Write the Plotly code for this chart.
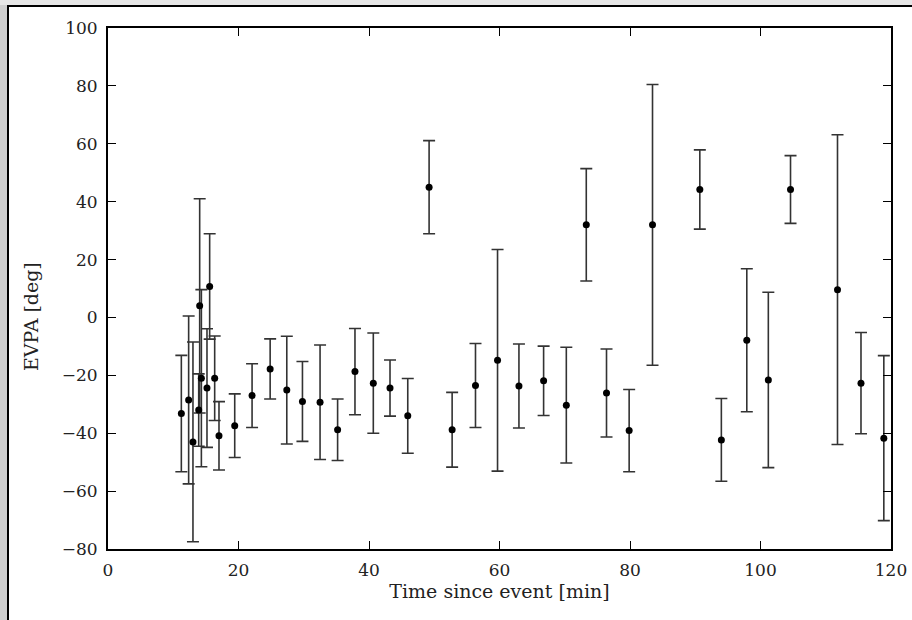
import plotly.graph_objects as go

# tiempo desde el evento [min], EVPA [deg] y su error (1 sigma)
tiempo = [11.24, 12.36, 13.02, 13.9, 14.05, 14.31, 15.17, 15.58, 16.35, 17.01,
          19.42, 22.08, 24.85, 27.4, 29.8, 32.5, 35.19, 37.85, 40.66, 43.22,
          45.94, 49.21, 52.74, 56.32, 59.7, 62.98, 66.76, 70.24, 73.3, 76.4,
          79.87, 83.45, 90.7, 94.0, 97.9, 101.2, 104.6, 111.8, 115.4, 118.9]
evpa = [-33.2, -28.5, -43.0, -32.0, 4.0, -21.0, -24.4, 10.7, -21.0, -40.9,
        -37.4, -27.0, -17.8, -25.1, -29.0, -29.3, -38.8, -18.7, -22.7, -24.4,
        -34.0, 45.0, -38.8, -23.5, -14.8, -23.7, -21.9, -30.3, 32.0, -26.1,
        -39.1, 32.0, 44.2, -42.3, -7.9, -21.6, 44.2, 9.6, -22.7, -41.7]
err = [20.1, 29.0, 34.5, 12.5, 37.0, 30.6, 20.5, 18.2, 14.6, 11.8,
       11.0, 11.0, 10.4, 18.6, 13.8, 19.8, 10.6, 14.9, 17.3, 9.7,
       12.9, 16.1, 12.9, 14.5, 38.3, 14.5, 12.0, 20.0, 19.4, 15.2,
       14.2, 48.5, 13.7, 14.3, 24.7, 30.3, 11.7, 53.5, 17.5, 28.5]

W, H = 912, 620
ML, MR, MT, MB = 108, 21, 28, 71
FUENTE = "DejaVu Serif"


def px_x(px):
    return (px - ML) / (W - ML - MR)


def px_y(py):
    return 1 - (py - MT) / (H - MT - MB)


fig = go.Figure()
fig.add_trace(go.Scatter(
    x=tiempo, y=evpa, mode="markers",
    marker=dict(size=7, color="black"),
    error_y=dict(type="data", array=err, visible=True, color="#333333",
                 thickness=1.6, width=6),
    showlegend=False))

eje = dict(showline=True, linecolor="black", linewidth=2, mirror="ticks",
           ticks="inside", ticklen=8, tickwidth=1, tickcolor="black",
           showgrid=False, zeroline=False,
           tickfont=dict(family=FUENTE, size=17, color="#222222"))

fig.update_layout(
    width=W, height=H,
    margin=dict(l=ML, r=MR, t=MT, b=MB, autoexpand=False),
    paper_bgcolor="white", plot_bgcolor="white",
    font=dict(family=FUENTE, size=17, color="#222222"),
    xaxis=dict(range=[0, 120], tickvals=[0, 20, 40, 60, 80, 100, 120],
               title=dict(text="Time since event [min]", standoff=5,
                          font=dict(family=FUENTE, size=19)),
               ticklabelstandoff=5, **eje),
    yaxis=dict(range=[-80, 100], tickvals=list(range(-80, 101, 20)),
               ticklabelstandoff=5, **eje),
)

# título del eje y, algo por debajo del centro como en la figura original
fig.add_annotation(text="EVPA [deg]", textangle=-90, showarrow=False,
                   xref="paper", yref="paper", x=px_x(31), y=px_y(317),
                   xanchor="center", yanchor="middle",
                   font=dict(family=FUENTE, size=19, color="#222222"))

# marco gris de la captura: franjas izquierda y superior con línea negra
fig.add_shape(type="rect", xref="paper", yref="paper", layer="below",
              x0=px_x(0), x1=px_x(7), y0=px_y(H), y1=px_y(0),
              fillcolor="#cfcfcf", line=dict(width=0))
fig.add_shape(type="rect", xref="paper", yref="paper", layer="below",
              x0=px_x(0), x1=px_x(W), y0=px_y(5), y1=px_y(0),
              fillcolor="#e6e6e6", line=dict(width=0))
fig.add_shape(type="line", xref="paper", yref="paper",
              x0=px_x(8), x1=px_x(8), y0=px_y(H), y1=px_y(5),
              line=dict(color="black", width=2))
fig.add_shape(type="line", xref="paper", yref="paper",
              x0=px_x(8), x1=px_x(W), y0=px_y(6), y1=px_y(6),
              line=dict(color="black", width=2))

# sin margen del body para que la figura empiece en (0, 0)
fig.write_html("out.html",
               config={"displayModeBar": False},
               post_script="document.body.style.margin='0';"
                           "document.body.style.overflow='hidden';")
